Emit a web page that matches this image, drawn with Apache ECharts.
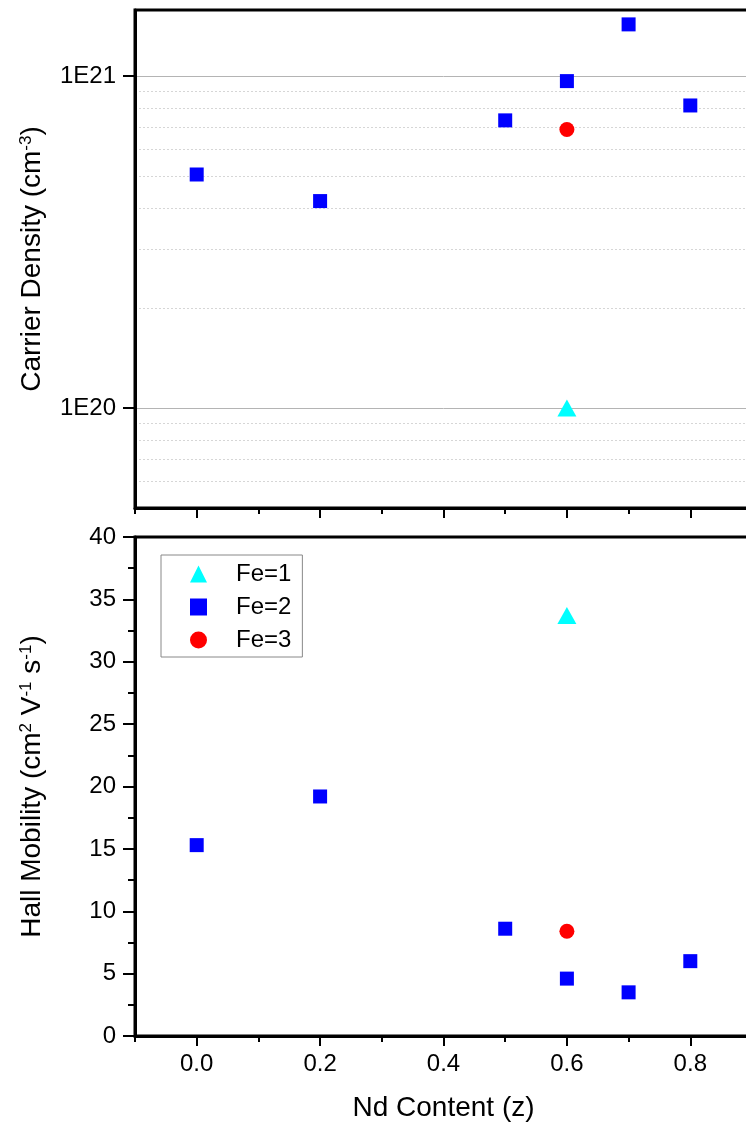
<!DOCTYPE html>
<html lang="en">
<head>
    <meta charset="UTF-8">
    <title>Carrier density and Hall mobility</title>
    <script src="https://cdn.jsdelivr.net/npm/echarts@6/dist/echarts.min.js"></script>
    <style>
        html, body { margin: 0; padding: 0; overflow: hidden; background: #fff; }
    </style>
</head>
<body>
<!-- a bit wider than the window: the right edge of the frame is cut off, as in the original -->
<div id="main" style="width: 770px;height:1124px;"></div>
<script type="text/javascript">
    // Nd content (z) of every sample, grouped by Fe content
    var ndFe1 = [0.6];
    var ndFe2 = [0.0, 0.2, 0.5, 0.6, 0.7, 0.8];
    var ndFe3 = [0.6];

    // carrier density, cm^-3
    var carrierFe1 = [1.0e20];
    var carrierFe2 = [5.05e20, 4.2e20, 7.35e20, 9.65e20, 1.43e21, 8.15e20];
    var carrierFe3 = [6.9e20];

    // Hall mobility, cm^2 V^-1 s^-1
    var mobilityFe1 = [33.7];
    var mobilityFe2 = [15.3, 19.2, 8.6, 4.6, 3.5, 6.0];
    var mobilityFe3 = [8.4];

    // ticks
    var xMajor = [0.0, 0.2, 0.4, 0.6, 0.8];
    var xMinor = [-0.1, 0.1, 0.3, 0.5, 0.7, 0.9];
    var logMajor = [1e20, 1e21];
    var logMinor = [6e19, 7e19, 8e19, 9e19, 2e20, 3e20, 4e20, 5e20, 6e20, 7e20, 8e20, 9e20];

    function pairs(xs, ys) {
        var out = [];
        for (var i = 0; i < xs.length; i++) {
            out.push([xs[i], ys[i]]);
        }
        return out;
    }

    var black = '#000';
    var font = 'Liberation Sans, Arial, sans-serif';

    function xAxisFor(grid, ticks, len, withLabels) {
        return {
            type: 'value', gridIndex: grid, position: 'bottom',
            min: -0.1, max: 0.9,
            axisLine: {show: true, onZero: false, lineStyle: {color: black, width: 3}},
            axisTick: {show: true, customValues: ticks, length: len, lineStyle: {color: black, width: 2}},
            axisLabel: {
                show: withLabels, customValues: xMajor, fontSize: 24, color: black, margin: 16,
                formatter: function (v) { return v.toFixed(1); }
            },
            splitLine: {show: false}
        };
    }

    var sup = {fontSize: 17, lineHeight: 17, verticalAlign: 'top', color: black};

    var topX = xAxisFor(0, xMajor, 10, false);
    var topXMinor = xAxisFor(0, xMinor, 6, false);
    var botX = xAxisFor(1, xMajor, 10, true);
    botX.name = 'Nd Content (z)';
    botX.nameLocation = 'middle';
    botX.nameGap = 58;
    botX.nameTextStyle = {fontSize: 28, color: black};
    var botXMinor = xAxisFor(1, xMinor, 6, false);
    topXMinor.axisLine.show = false;
    botXMinor.axisLine.show = false;

    var myChart = echarts.init(document.getElementById('main'));
    myChart.setOption({
        animation: false,
        textStyle: {fontFamily: font},
        grid: [
            {left: 135, top: 10, width: 617, height: 498, show: true, borderColor: black, borderWidth: 3},
            {left: 135, top: 537, width: 617, height: 499, show: true, borderColor: black, borderWidth: 3}
        ],
        legend: {
            orient: 'vertical', left: 161, top: 555,
            itemWidth: 17, itemHeight: 17, itemGap: 9,
            padding: [7, 11, 5, 29],
            borderColor: '#888', borderWidth: 1, backgroundColor: '#fff',
            textStyle: {fontSize: 24, color: black, padding: [0, 0, 0, 24]},
            data: ['Fe=1', 'Fe=2', 'Fe=3']
        },
        xAxis: [topX, topXMinor, botX, botXMinor],
        yAxis: [
            {
                type: 'log', logBase: 10, gridIndex: 0, min: 5e19, max: 1.58e21,
                axisLine: {show: true, onZero: false, lineStyle: {color: black, width: 3}},
                axisTick: {show: true, customValues: logMajor, length: 12, lineStyle: {color: black, width: 2}},
                axisLabel: {
                    customValues: logMajor, fontSize: 24, color: black, margin: 19,
                    formatter: function (v) { return '1E' + Math.round(Math.log10(v)); }
                },
                splitLine: {show: true, lineStyle: {color: '#b4b4b4', width: 1}},
                name: 'Carrier Density (cm{sup|-3})',
                nameLocation: 'middle', nameGap: 89,
                nameTextStyle: {fontSize: 28, color: black, rich: {sup: sup}}
            },
            {
                type: 'log', logBase: 10, gridIndex: 0, min: 5e19, max: 1.58e21,
                axisLine: {show: false, onZero: false},
                axisTick: {show: true, customValues: logMinor, length: 7, lineStyle: {color: black, width: 2}},
                axisLabel: {show: false},
                splitLine: {show: true, lineStyle: {color: '#d6d6d6', width: 1, type: [2, 2]}}
            },
            {
                type: 'value', gridIndex: 1, min: 0, max: 40, interval: 5,
                axisLine: {show: true, onZero: false, lineStyle: {color: black, width: 3}},
                axisTick: {show: true, length: 12, lineStyle: {color: black, width: 2}},
                minorTick: {show: true, splitNumber: 2, length: 7, lineStyle: {color: black, width: 2}},
                axisLabel: {fontSize: 24, color: black, margin: 19},
                splitLine: {show: false},
                name: 'Hall Mobility (cm{sup|2} V{sup|-1} s{sup|-1})',
                nameLocation: 'middle', nameGap: 89,
                nameTextStyle: {fontSize: 28, color: black, rich: {sup: sup}}
            }
        ],
        series: [
            {name: 'Fe=1', type: 'scatter', xAxisIndex: 0, yAxisIndex: 0, symbol: 'triangle', symbolSize: [19, 17],
                itemStyle: {color: '#00ffff', opacity: 1}, data: pairs(ndFe1, carrierFe1)},
            {name: 'Fe=2', type: 'scatter', xAxisIndex: 0, yAxisIndex: 0, symbol: 'rect', symbolSize: 14,
                itemStyle: {color: '#0000ff', opacity: 1}, data: pairs(ndFe2, carrierFe2)},
            {name: 'Fe=3', type: 'scatter', xAxisIndex: 0, yAxisIndex: 0, symbol: 'circle', symbolSize: 15,
                itemStyle: {color: '#ff0000', opacity: 1}, data: pairs(ndFe3, carrierFe3)},
            {name: 'Fe=1', type: 'scatter', xAxisIndex: 2, yAxisIndex: 2, symbol: 'triangle', symbolSize: [19, 17],
                itemStyle: {color: '#00ffff', opacity: 1}, data: pairs(ndFe1, mobilityFe1)},
            {name: 'Fe=2', type: 'scatter', xAxisIndex: 2, yAxisIndex: 2, symbol: 'rect', symbolSize: 14,
                itemStyle: {color: '#0000ff', opacity: 1}, data: pairs(ndFe2, mobilityFe2)},
            {name: 'Fe=3', type: 'scatter', xAxisIndex: 2, yAxisIndex: 2, symbol: 'circle', symbolSize: 15,
                itemStyle: {color: '#ff0000', opacity: 1}, data: pairs(ndFe3, mobilityFe3)}
        ]
    });
</script>
</body>
</html>
